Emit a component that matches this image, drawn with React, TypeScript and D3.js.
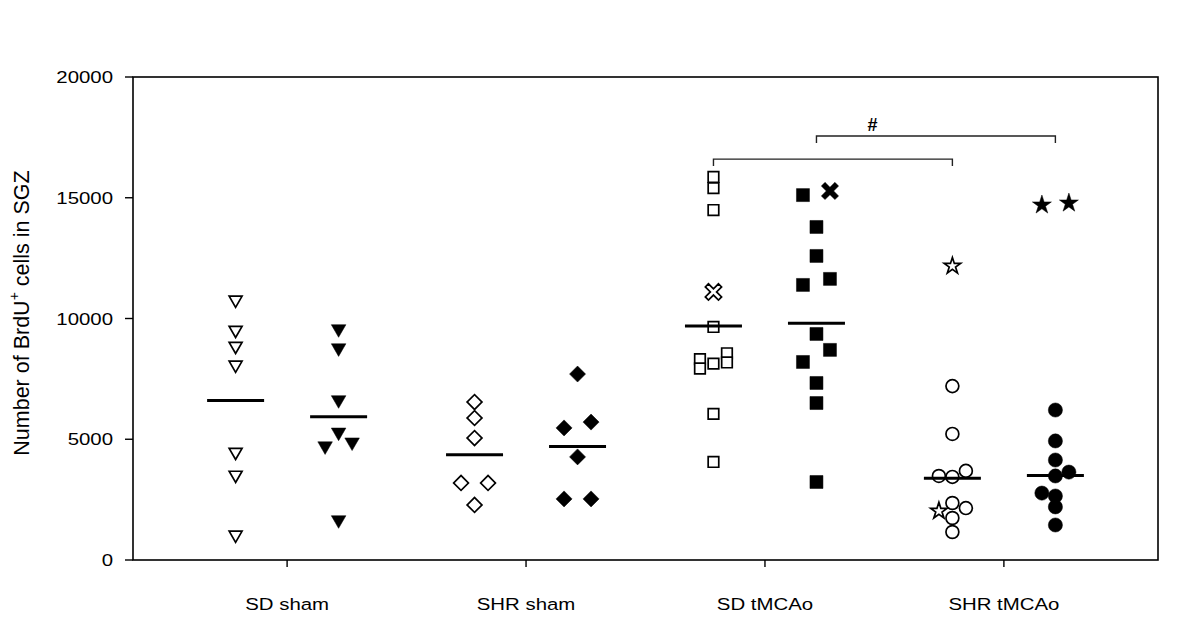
import React from "react";
import * as d3 from "d3";

// ---------- data ----------
const categories = ["SD sham", "SHR sham", "SD tMCAo", "SHR tMCAo"];
const yTicks = [0, 5000, 10000, 15000, 20000];
const yTitleMain = "Number of BrdU";
const yTitleSup = "+";
const yTitleRest = " cells in SGZ";

// [value, jitter slot]
type Pt = [number, number];
const sdShamOpen: Pt[] = [[10770, 0], [9520, 0], [8860, 0], [8080, 0], [4470, 0], [3520, 0], [1040, 0]];
const sdShamFilled: Pt[] = [[9570, 0], [8780, 0], [6630, 0], [5290, 0], [4880, 1], [4720, -1], [1660, 0]];
const shrShamOpen: Pt[] = [[6540, 0], [5880, 0], [5050, 0], [3190, -1], [3190, 1], [2280, 0]];
const shrShamFilled: Pt[] = [[7700, 0], [5710, 1], [5470, -1], [4270, 0], [2530, -1], [2530, 1]];
const sdTmcaoOpen: Pt[] = [[15860, 0], [15400, 0], [14490, 0], [9650, 0], [8560, 1], [8180, 1], [8320, -1], [7930, -1], [8130, 0], [6050, 0], [4060, 0]];
const sdTmcaoOpenExcluded: Pt[] = [[11100, 0]];
const sdTmcaoFilled: Pt[] = [[15110, -1], [13790, 0], [12590, 0], [11640, 1], [11390, -1], [9360, 0], [8700, 1], [8200, -1], [7330, 0], [6500, 0], [3230, 0]];
const sdTmcaoFilledExcluded: Pt[] = [[15280, 1]];
const shrTmcaoOpen: Pt[] = [[7200, 0], [5220, 0], [3480, -1], [3440, 0], [3690, 1], [2360, 0], [2150, 1], [1740, 0], [1160, 0]];
const shrTmcaoOpenExcluded: Pt[] = [[12170, 0], [2030, -1]];
const shrTmcaoFilled: Pt[] = [[6210, 0], [4930, 0], [4140, 0], [3640, 1], [3480, 0], [2770, -1], [2650, 0], [2200, 0], [1450, 0]];
const shrTmcaoFilledExcluded: Pt[] = [[14700, -1], [14780, 1]];

// comparison brackets: [fromCat, fromSide, toCat, toSide, level value]
const brackets: [number, number, number, number, number][] = [
  [2, -1, 3, -1, 16600],
  [2, 1, 3, 1, 17560],
];
const bracketLabel = "#";

// ---------- layout ----------
const W = 1200, H = 617;
const L = 133, R = 1158, T = 77, B = 560;
const SUB = 51.5; // column offset from category center
const STEP = 13.5; // jitter step

const y = d3.scaleLinear().domain([0, 20000]).range([B, T]);
const x = d3.scalePoint<string>().domain(categories).range([L, R]).padding(0.645);

type Shape = "triDown" | "diamond" | "square" | "circle" | "cross" | "star";
interface Series { cat: number; side: number; shape: Shape; filled: boolean; pts: Pt[]; mean: boolean; }
const series: Series[] = [
  { cat: 0, side: -1, shape: "triDown", filled: false, pts: sdShamOpen, mean: true },
  { cat: 0, side: 1, shape: "triDown", filled: true, pts: sdShamFilled, mean: true },
  { cat: 1, side: -1, shape: "diamond", filled: false, pts: shrShamOpen, mean: true },
  { cat: 1, side: 1, shape: "diamond", filled: true, pts: shrShamFilled, mean: true },
  { cat: 2, side: -1, shape: "square", filled: false, pts: sdTmcaoOpen, mean: true },
  { cat: 2, side: -1, shape: "cross", filled: false, pts: sdTmcaoOpenExcluded, mean: false },
  { cat: 2, side: 1, shape: "square", filled: true, pts: sdTmcaoFilled, mean: true },
  { cat: 2, side: 1, shape: "cross", filled: true, pts: sdTmcaoFilledExcluded, mean: false },
  { cat: 3, side: -1, shape: "circle", filled: false, pts: shrTmcaoOpen, mean: true },
  { cat: 3, side: -1, shape: "star", filled: false, pts: shrTmcaoOpenExcluded, mean: false },
  { cat: 3, side: 1, shape: "circle", filled: true, pts: shrTmcaoFilled, mean: true },
  { cat: 3, side: 1, shape: "star", filled: true, pts: shrTmcaoFilledExcluded, mean: false },
];

const colX = (cat: number, side: number) => (x(categories[cat]) as number) + side * SUB;

function crossPath(Larm: number, w: number): string {
  const pts: [number, number][] = [
    [-w, -Larm], [w, -Larm], [w, -w], [Larm, -w], [Larm, w], [w, w],
    [w, Larm], [-w, Larm], [-w, w], [-Larm, w], [-Larm, -w], [-w, -w],
  ];
  const c = Math.SQRT1_2;
  return "M" + pts.map(([a, b]) => `${(a - b) * c},${(a + b) * c}`).join("L") + "Z";
}

function markerPath(shape: Shape, filled: boolean): { d: string; rot: number } {
  const sym = (t: d3.SymbolType, s: number) => d3.symbol().type(t).size(s)() as string;
  switch (shape) {
    case "triDown": return { d: sym(d3.symbolTriangle, filled ? 92 : 72), rot: 180 };
    case "diamond": return { d: sym(d3.symbolSquare, filled ? 128 : 110), rot: 45 };
    case "square": return { d: sym(d3.symbolSquare, filled ? 169 : 112), rot: 0 };
    case "circle": return { d: sym(d3.symbolCircle, filled ? 158 : 130), rot: 0 };
    case "star": return { d: sym(d3.symbolStar, filled ? 112 : 84), rot: 0 };
    case "cross": return { d: crossPath(filled ? 9.6 : 9.3, filled ? 2.6 : 2.2), rot: 0 };
  }
}

const font = "'Liberation Sans', Arial, Helvetica, sans-serif";

export default function App() {
  return (
    <div style={{ position: "absolute", left: 0, top: 0 }}>
      <svg width={W} height={H} style={{ display: "block", background: "#fff" }}>
        <rect x={0} y={0} width={W} height={H} fill="#fff" />
        {/* frame */}
        <rect x={L} y={T} width={R - L} height={B - T} fill="none" stroke="#000" strokeWidth={1.6} />
        {/* y ticks */}
        {yTicks.map((t) => (
          <g key={t}>
            <line x1={L - 8} x2={L} y1={y(t)} y2={y(t)} stroke="#000" strokeWidth={1.4} />
            <g transform={`translate(${L - 20},${y(t)}) scale(1.2,1)`}>
              <text textAnchor="end" dy="0.36em" fontFamily={font} fontSize={17} fill="#000">{t}</text>
            </g>
          </g>
        ))}
        {/* x ticks */}
        {categories.map((c) => (
          <g key={c}>
            <line x1={x(c)} x2={x(c)} y1={B} y2={B + 7} stroke="#000" strokeWidth={1.4} />
            <g transform={`translate(${x(c)},${B + 50}) scale(1.2,1)`}>
              <text textAnchor="middle" fontFamily={font} fontSize={17} fill="#000">{c}</text>
            </g>
          </g>
        ))}
        {/* y title */}
        <text transform={`translate(29,313) rotate(-90)`} textAnchor="middle" fontFamily={font} fontSize={21.5} fill="#000">
          {yTitleMain}
          <tspan dy={-10} fontSize={14}>{yTitleSup}</tspan>
          <tspan dy={10}>{yTitleRest}</tspan>
        </text>
        {/* brackets */}
        {brackets.map(([c1, s1, c2, s2, v], i) => {
          const x1 = colX(c1, s1), x2 = colX(c2, s2), yy = y(v);
          return (
            <path key={i} d={`M${x1},${yy + 7}V${yy}H${x2}V${yy + 7}`} fill="none" stroke="#222" strokeWidth={1.4} />
          );
        })}
        <text x={colX(2, 1) + 56} y={y(brackets[1][4]) - 5} textAnchor="middle" fontFamily={font} fontWeight="bold" fontSize={18} fill="#000">{bracketLabel}</text>
        {/* markers */}
        {series.map((s, i) => {
          const m = markerPath(s.shape, s.filled);
          return (
            <g key={i}>
              {s.pts.map(([v, slot], j) => (
                <path
                  key={j}
                  d={m.d}
                  transform={`translate(${colX(s.cat, s.side) + slot * STEP},${y(v)}) rotate(${m.rot})`}
                  fill={s.filled ? "#000" : "#fff"}
                  stroke="#000"
                  strokeWidth={s.filled ? 0.5 : 1.7}
                  strokeLinejoin="miter"
                />
              ))}
            </g>
          );
        })}
        {/* mean lines */}
        {series.filter((s) => s.mean).map((s, i) => {
          const m = d3.mean(s.pts, (p) => p[0]) as number;
          const cx = colX(s.cat, s.side);
          return <line key={i} x1={cx - 28.5} x2={cx + 28.5} y1={y(m)} y2={y(m)} stroke="#000" strokeWidth={3} />;
        })}
      </svg>
    </div>
  );
}
